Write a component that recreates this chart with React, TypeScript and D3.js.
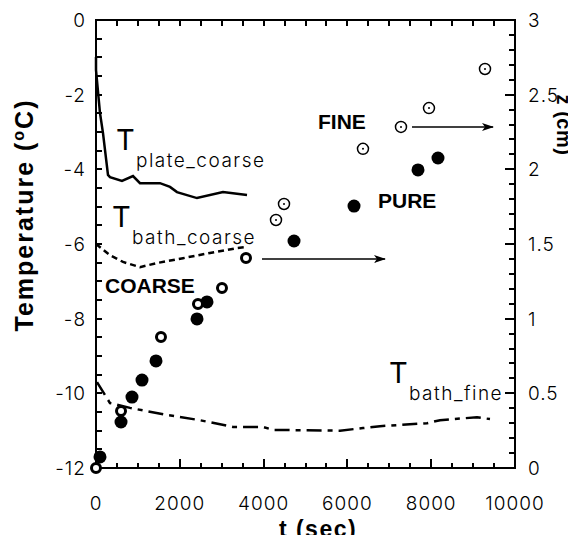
import React, { useEffect, useRef } from "react";
import * as d3 from "d3";

// temperature traces (t in sec, T in deg C)
const plateCoarseT = [0, 0, 95, 167, 286, 334, 620, 883, 1050, 1527, 1766, 1933, 2410, 3031, 3604];
const plateCoarseV = [-0.99, -1.34, -2.49, -3.03, -4.15, -4.21, -4.31, -4.18, -4.37, -4.37, -4.47, -4.61, -4.77, -4.61, -4.69];
const bathCoarseT = [0, 334, 644, 1050, 1456, 2076, 2720, 3365, 3604];
const bathCoarseV = [-6.0, -6.3, -6.48, -6.62, -6.51, -6.38, -6.24, -6.11, -6.08];
const bathFineT = [24, 334, 811, 1694, 2482, 3270, 3986, 4224, 5823, 6372, 6778, 7900, 8210, 9093, 9403];
const bathFineV = [-9.7, -10.26, -10.39, -10.58, -10.72, -10.9, -10.9, -10.98, -11.0, -10.93, -10.88, -10.8, -10.72, -10.64, -10.69];

// interface position z (cm)
const pureT = [95, 597, 859, 1098, 1432, 2411, 2649, 4726, 6158, 7685, 8162];
const pureZ = [0.074, 0.308, 0.475, 0.589, 0.717, 0.998, 1.112, 1.52, 1.754, 1.996, 2.076];
const coarseT = [0, 597, 1551, 2434, 3007, 3580];
const coarseZ = [0.0, 0.382, 0.877, 1.098, 1.205, 1.406];
const fineT = [4296, 4487, 6372, 7279, 7947, 9284];
const fineZ = [1.661, 1.768, 2.137, 2.284, 2.41, 2.672];

// arrows [t0, t1, z]
const fineArrow = [7542, 9475, 2.284];
const coarseArrow = [3962, 6897, 1.4];

const xTicks = [0, 2000, 4000, 6000, 8000, 10000];
const tempTicks = [0, -2, -4, -6, -8, -10, -12];
const zTicks = [0, 0.5, 1, 1.5, 2, 2.5, 3];

const thin = "Inter, 'DejaVu Sans', sans-serif";
const heavy = "'Liberation Sans', Arial, sans-serif";

function Chart() {
  const ref = useRef<SVGSVGElement>(null);

  useEffect(() => {
    const svg = d3.select(ref.current);
    svg.selectAll("*").remove();

    const left = 96, right = 515, top = 20, bottom = 468;
    const x = d3.scaleLinear().domain([0, 10000]).range([left, right]);
    const y = d3.scaleLinear().domain([-12, 0]).range([bottom, top]);
    const z = d3.scaleLinear().domain([0, 3]).range([bottom, top]);

    svg.append("defs").append("marker")
      .attr("id", "arr")
      .attr("viewBox", "0 -5 12 10")
      .attr("refX", 11).attr("refY", 0)
      .attr("markerWidth", 12).attr("markerHeight", 10)
      .attr("markerUnits", "userSpaceOnUse")
      .attr("orient", "auto")
      .append("path")
      .attr("d", "M0,-4L12,0L0,4L3,0Z")
      .attr("fill", "black");

    // frame + inward ticks
    const ax = svg.append("g")
      .attr("stroke", "black")
      .attr("stroke-width", 2)
      .attr("shape-rendering", "crispEdges");
    const r = (v: number) => Math.round(v);
    const xMinor = d3.range(0, 10001, 500);
    ax.selectAll(".xb").data(xMinor).enter().append("line")
      .attr("x1", d => r(x(d))).attr("x2", d => r(x(d)))
      .attr("y1", bottom).attr("y2", d => bottom - (d % 2000 === 0 ? 9 : 5));
    ax.selectAll(".xt").data(xMinor).enter().append("line")
      .attr("x1", d => r(x(d))).attr("x2", d => r(x(d)))
      .attr("y1", top).attr("y2", top + 6);
    ax.selectAll(".yl").data(d3.range(-12, 0.01, 0.5)).enter().append("line")
      .attr("x1", left).attr("x2", left + 6)
      .attr("y1", d => r(y(d))).attr("y2", d => r(y(d)));
    ax.selectAll(".zr").data(d3.range(0, 30.5, 1)).enter().append("line")
      .attr("x1", right).attr("x2", d => right - (d % 5 === 0 ? 10 : 6))
      .attr("y1", d => r(z(d / 10))).attr("y2", d => r(z(d / 10)));
    ax.append("path")
      .attr("d", `M${left},${top}H${right}V${bottom}H${left}Z`)
      .attr("fill", "none");

    // tick labels
    const lab = svg.append("g")
      .attr("font-family", thin).attr("font-weight", 300)
      .attr("font-size", 19).attr("fill", "black");
    lab.selectAll(".xl").data(xTicks).enter().append("text")
      .attr("x", d => x(d)).attr("y", 510)
      .attr("text-anchor", "middle")
      .attr("letter-spacing", 1)
      .text(d => String(d));
    lab.selectAll(".yl").data(tempTicks).enter().append("text")
      .attr("x", left - 10).attr("y", d => y(d) + 7)
      .attr("text-anchor", "end")
      .attr("letter-spacing", 1)
      .text(d => String(d));
    lab.selectAll(".zl").data(zTicks).enter().append("text")
      .attr("x", right + 13).attr("y", d => z(d) + 7)
      .attr("letter-spacing", 1)
      .text(d => String(d));

    // temperature lines
    const line = d3.line<[number, number]>().x(d => x(d[0])).y(d => y(d[1]));
    const addLine = (ts: number[], vs: number[], dash: string | null) => {
      svg.append("path")
        .datum(ts.map((t, i) => [t, vs[i]] as [number, number]))
        .attr("d", line)
        .attr("fill", "none")
        .attr("stroke", "black")
        .attr("stroke-width", 2.5)
        .attr("stroke-dasharray", dash);
    };
    addLine(plateCoarseT, plateCoarseV, null);
    addLine(bathCoarseT, bathCoarseV, "6,4");
    addLine(bathFineT, bathFineV, "15,6,5,6");

    // arrows
    [fineArrow, coarseArrow].forEach(a => {
      svg.append("line")
        .attr("x1", x(a[0])).attr("x2", x(a[1]))
        .attr("y1", z(a[2])).attr("y2", z(a[2]))
        .attr("stroke", "black").attr("stroke-width", 1.5)
        .attr("marker-end", "url(#arr)");
    });

    // points
    svg.append("g").selectAll("circle")
      .data(pureT)
      .enter().append("circle")
      .attr("cx", d => x(d))
      .attr("cy", (d, i) => z(pureZ[i]))
      .attr("r", 6.5)
      .attr("fill", "black");

    svg.append("g").selectAll("circle")
      .data(coarseT)
      .enter().append("circle")
      .attr("cx", d => x(d))
      .attr("cy", (d, i) => z(coarseZ[i]))
      .attr("r", 4.5)
      .attr("fill", "white")
      .attr("stroke", "black")
      .attr("stroke-width", 3);

    const fine = svg.append("g").selectAll("g")
      .data(fineT)
      .enter().append("g")
      .attr("transform", (d, i) => `translate(${x(d)},${z(fineZ[i])})`);
    fine.append("circle").attr("r", 5.5).attr("fill", "white")
      .attr("stroke", "black").attr("stroke-width", 1.5);
    fine.append("circle").attr("r", 1).attr("fill", "black");

    // labels
    const sym = (tx: number, ty: number, sub: string) => {
      svg.append("text").attr("x", tx).attr("y", ty)
        .attr("font-family", thin).attr("font-weight", 400).attr("font-size", 29).text("T");
      svg.append("text").attr("x", tx + 20).attr("y", ty + 17)
        .attr("font-family", thin).attr("font-weight", 300).attr("font-size", 19)
        .attr("letter-spacing", 1.5).text(sub);
    };
    sym(116, 150, "plate_coarse");
    sym(112, 227, "bath_coarse");
    sym(389, 383, "bath_fine");

    const word = (tx: number, ty: number, s: string) => {
      svg.append("text").attr("x", tx).attr("y", ty)
        .attr("font-family", heavy).attr("font-weight", "bold")
        .attr("font-size", 21).text(s);
    };
    word(105, 293, "COARSE");
    word(318, 129, "FINE");
    word(378, 208, "PURE");

    // axis titles
    const yt = svg.append("text")
      .attr("transform", "translate(33,215) rotate(-90)")
      .attr("text-anchor", "middle")
      .attr("font-family", heavy).attr("font-weight", "bold")
      .attr("font-size", 25).attr("letter-spacing", 2);
    yt.append("tspan").text("Temperature (");
    yt.append("tspan").attr("dy", -9).attr("font-size", 16).text("o");
    yt.append("tspan").attr("dy", 9).text("C)");

    svg.append("text")
      .attr("x", 318).attr("y", 537)
      .attr("text-anchor", "middle")
      .attr("font-family", heavy).attr("font-weight", "bold")
      .attr("font-size", 23).attr("letter-spacing", 1.5)
      .text("t (sec)");

    svg.append("text")
      .attr("transform", "translate(557,125) rotate(90)")
      .attr("text-anchor", "middle")
      .attr("font-family", heavy).attr("font-weight", "bold")
      .attr("font-size", 20).attr("letter-spacing", 0.5)
      .text("z (cm)");
  }, []);

  return <svg ref={ref} width={576} height={543} style={{ display: "block", background: "white" }} />;
}

export default function App() {
  return (
    <div style={{ margin: -8 }}>
      <Chart />
    </div>
  );
}
